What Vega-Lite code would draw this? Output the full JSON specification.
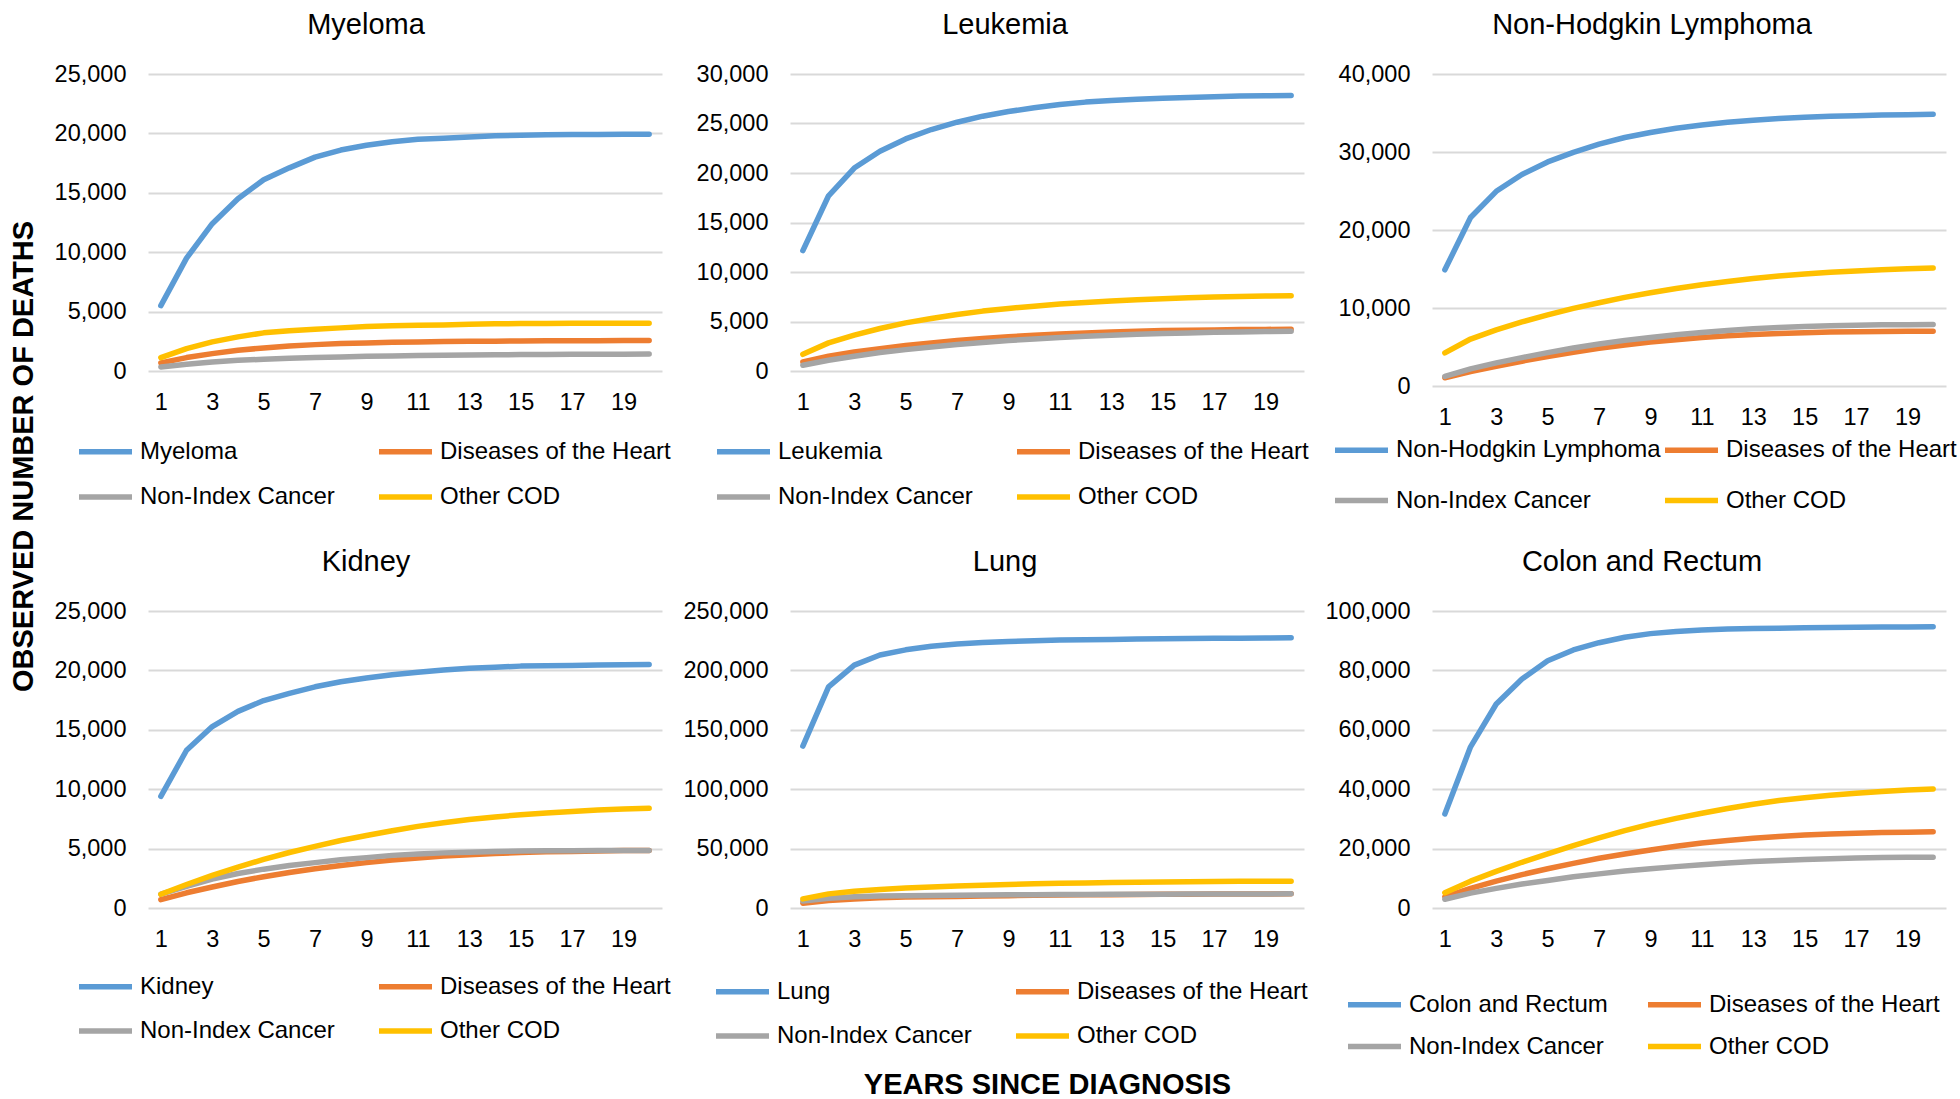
{
"$schema": "https://vega.github.io/schema/vega-lite/v6.json",
"background": "white",
"padding": {"left": 9, "top": 11, "right": 0, "bottom": 0},
"bounds": "flush",
"columns": 3,
"spacing": {"row": 225, "column": 128},
"config": {
  "font": "Liberation Sans",
  "view": {"stroke": null},
  "axis": {"grid": true, "gridColor": "#D9D9D9", "gridWidth": 2, "domain": false, "ticks": false, "tickSize": 0, "labelFont": "Liberation Sans", "labelFontSize": 23.5, "labelColor": "#000000", "titleColor": "#000000", "titleFont": "Liberation Sans"},
  "legend": {"orient": "none", "direction": "horizontal", "columns": 2, "symbolType": "stroke", "symbolSize": 2809, "symbolStrokeWidth": 5.5, "labelFont": "Liberation Sans", "labelFontSize": 24, "labelColor": "#000000", "labelOffset": 5, "columnPadding": 5, "rowPadding": 3, "gridAlign": "all", "padding": 0, "labelLimit": 500, "title": null},
  "title": {"font": "Liberation Sans", "fontSize": 29, "fontWeight": "normal", "color": "#000000", "anchor": "middle", "frame": "group", "offset": 22, "baseline": "alphabetic"},
  "line": {"strokeWidth": 5.5, "strokeCap": "round", "strokeJoin": "round"}
},
"resolve": {"scale": {"color": "independent", "x": "independent", "y": "independent"}, "legend": {"color": "independent"}},
"datasets": {
"myeloma": [
{"cause":"Myeloma","year":1,"deaths":5500},{"cause":"Myeloma","year":2,"deaths":9500},{"cause":"Myeloma","year":3,"deaths":12400},{"cause":"Myeloma","year":4,"deaths":14500},{"cause":"Myeloma","year":5,"deaths":16100},{"cause":"Myeloma","year":6,"deaths":17100},{"cause":"Myeloma","year":7,"deaths":18000},{"cause":"Myeloma","year":8,"deaths":18600},{"cause":"Myeloma","year":9,"deaths":19000},{"cause":"Myeloma","year":10,"deaths":19300},{"cause":"Myeloma","year":11,"deaths":19500},{"cause":"Myeloma","year":12,"deaths":19600},{"cause":"Myeloma","year":13,"deaths":19700},{"cause":"Myeloma","year":14,"deaths":19800},{"cause":"Myeloma","year":15,"deaths":19850},{"cause":"Myeloma","year":16,"deaths":19880},{"cause":"Myeloma","year":17,"deaths":19900},{"cause":"Myeloma","year":18,"deaths":19910},{"cause":"Myeloma","year":19,"deaths":19920},{"cause":"Myeloma","year":20,"deaths":19930},
{"cause":"Diseases of the Heart","year":1,"deaths":680},{"cause":"Diseases of the Heart","year":2,"deaths":1130},{"cause":"Diseases of the Heart","year":3,"deaths":1460},{"cause":"Diseases of the Heart","year":4,"deaths":1750},{"cause":"Diseases of the Heart","year":5,"deaths":1940},{"cause":"Diseases of the Heart","year":6,"deaths":2110},{"cause":"Diseases of the Heart","year":7,"deaths":2220},{"cause":"Diseases of the Heart","year":8,"deaths":2310},{"cause":"Diseases of the Heart","year":9,"deaths":2360},{"cause":"Diseases of the Heart","year":10,"deaths":2420},{"cause":"Diseases of the Heart","year":11,"deaths":2450},{"cause":"Diseases of the Heart","year":12,"deaths":2480},{"cause":"Diseases of the Heart","year":13,"deaths":2500},{"cause":"Diseases of the Heart","year":14,"deaths":2510},{"cause":"Diseases of the Heart","year":15,"deaths":2530},{"cause":"Diseases of the Heart","year":16,"deaths":2540},{"cause":"Diseases of the Heart","year":17,"deaths":2550},{"cause":"Diseases of the Heart","year":18,"deaths":2550},{"cause":"Diseases of the Heart","year":19,"deaths":2560},{"cause":"Diseases of the Heart","year":20,"deaths":2560},
{"cause":"Non-Index Cancer","year":1,"deaths":340},{"cause":"Non-Index Cancer","year":2,"deaths":560},{"cause":"Non-Index Cancer","year":3,"deaths":760},{"cause":"Non-Index Cancer","year":4,"deaths":900},{"cause":"Non-Index Cancer","year":5,"deaths":990},{"cause":"Non-Index Cancer","year":6,"deaths":1070},{"cause":"Non-Index Cancer","year":7,"deaths":1130},{"cause":"Non-Index Cancer","year":8,"deaths":1180},{"cause":"Non-Index Cancer","year":9,"deaths":1240},{"cause":"Non-Index Cancer","year":10,"deaths":1270},{"cause":"Non-Index Cancer","year":11,"deaths":1300},{"cause":"Non-Index Cancer","year":12,"deaths":1320},{"cause":"Non-Index Cancer","year":13,"deaths":1350},{"cause":"Non-Index Cancer","year":14,"deaths":1370},{"cause":"Non-Index Cancer","year":15,"deaths":1380},{"cause":"Non-Index Cancer","year":16,"deaths":1390},{"cause":"Non-Index Cancer","year":17,"deaths":1400},{"cause":"Non-Index Cancer","year":18,"deaths":1410},{"cause":"Non-Index Cancer","year":19,"deaths":1420},{"cause":"Non-Index Cancer","year":20,"deaths":1430},
{"cause":"Other COD","year":1,"deaths":1130},{"cause":"Other COD","year":2,"deaths":1890},{"cause":"Other COD","year":3,"deaths":2450},{"cause":"Other COD","year":4,"deaths":2870},{"cause":"Other COD","year":5,"deaths":3210},{"cause":"Other COD","year":6,"deaths":3380},{"cause":"Other COD","year":7,"deaths":3520},{"cause":"Other COD","year":8,"deaths":3630},{"cause":"Other COD","year":9,"deaths":3740},{"cause":"Other COD","year":10,"deaths":3800},{"cause":"Other COD","year":11,"deaths":3860},{"cause":"Other COD","year":12,"deaths":3880},{"cause":"Other COD","year":13,"deaths":3940},{"cause":"Other COD","year":14,"deaths":3970},{"cause":"Other COD","year":15,"deaths":4000},{"cause":"Other COD","year":16,"deaths":4000},{"cause":"Other COD","year":17,"deaths":4020},{"cause":"Other COD","year":18,"deaths":4020},{"cause":"Other COD","year":19,"deaths":4025},{"cause":"Other COD","year":20,"deaths":4025}
],
"leukemia": [
{"cause":"Leukemia","year":1,"deaths":12160},{"cause":"Leukemia","year":2,"deaths":17700},{"cause":"Leukemia","year":3,"deaths":20500},{"cause":"Leukemia","year":4,"deaths":22190},{"cause":"Leukemia","year":5,"deaths":23440},{"cause":"Leukemia","year":6,"deaths":24390},{"cause":"Leukemia","year":7,"deaths":25130},{"cause":"Leukemia","year":8,"deaths":25740},{"cause":"Leukemia","year":9,"deaths":26210},{"cause":"Leukemia","year":10,"deaths":26590},{"cause":"Leukemia","year":11,"deaths":26920},{"cause":"Leukemia","year":12,"deaths":27160},{"cause":"Leukemia","year":13,"deaths":27330},{"cause":"Leukemia","year":14,"deaths":27460},{"cause":"Leukemia","year":15,"deaths":27560},{"cause":"Leukemia","year":16,"deaths":27630},{"cause":"Leukemia","year":17,"deaths":27700},{"cause":"Leukemia","year":18,"deaths":27770},{"cause":"Leukemia","year":19,"deaths":27800},{"cause":"Leukemia","year":20,"deaths":27840},
{"cause":"Diseases of the Heart","year":1,"deaths":910},{"cause":"Diseases of the Heart","year":2,"deaths":1490},{"cause":"Diseases of the Heart","year":3,"deaths":1925},{"cause":"Diseases of the Heart","year":4,"deaths":2260},{"cause":"Diseases of the Heart","year":5,"deaths":2570},{"cause":"Diseases of the Heart","year":6,"deaths":2840},{"cause":"Diseases of the Heart","year":7,"deaths":3070},{"cause":"Diseases of the Heart","year":8,"deaths":3280},{"cause":"Diseases of the Heart","year":9,"deaths":3450},{"cause":"Diseases of the Heart","year":10,"deaths":3615},{"cause":"Diseases of the Heart","year":11,"deaths":3750},{"cause":"Diseases of the Heart","year":12,"deaths":3850},{"cause":"Diseases of the Heart","year":13,"deaths":3950},{"cause":"Diseases of the Heart","year":14,"deaths":4020},{"cause":"Diseases of the Heart","year":15,"deaths":4090},{"cause":"Diseases of the Heart","year":16,"deaths":4120},{"cause":"Diseases of the Heart","year":17,"deaths":4150},{"cause":"Diseases of the Heart","year":18,"deaths":4180},{"cause":"Diseases of the Heart","year":19,"deaths":4200},{"cause":"Diseases of the Heart","year":20,"deaths":4220},
{"cause":"Non-Index Cancer","year":1,"deaths":575},{"cause":"Non-Index Cancer","year":2,"deaths":1080},{"cause":"Non-Index Cancer","year":3,"deaths":1490},{"cause":"Non-Index Cancer","year":4,"deaths":1860},{"cause":"Non-Index Cancer","year":5,"deaths":2160},{"cause":"Non-Index Cancer","year":6,"deaths":2430},{"cause":"Non-Index Cancer","year":7,"deaths":2670},{"cause":"Non-Index Cancer","year":8,"deaths":2870},{"cause":"Non-Index Cancer","year":9,"deaths":3070},{"cause":"Non-Index Cancer","year":10,"deaths":3240},{"cause":"Non-Index Cancer","year":11,"deaths":3380},{"cause":"Non-Index Cancer","year":12,"deaths":3510},{"cause":"Non-Index Cancer","year":13,"deaths":3615},{"cause":"Non-Index Cancer","year":14,"deaths":3715},{"cause":"Non-Index Cancer","year":15,"deaths":3780},{"cause":"Non-Index Cancer","year":16,"deaths":3850},{"cause":"Non-Index Cancer","year":17,"deaths":3920},{"cause":"Non-Index Cancer","year":18,"deaths":3950},{"cause":"Non-Index Cancer","year":19,"deaths":3990},{"cause":"Non-Index Cancer","year":20,"deaths":4020},
{"cause":"Other COD","year":1,"deaths":1690},{"cause":"Other COD","year":2,"deaths":2840},{"cause":"Other COD","year":3,"deaths":3615},{"cause":"Other COD","year":4,"deaths":4290},{"cause":"Other COD","year":5,"deaths":4860},{"cause":"Other COD","year":6,"deaths":5300},{"cause":"Other COD","year":7,"deaths":5710},{"cause":"Other COD","year":8,"deaths":6050},{"cause":"Other COD","year":9,"deaths":6320},{"cause":"Other COD","year":10,"deaths":6550},{"cause":"Other COD","year":11,"deaths":6760},{"cause":"Other COD","year":12,"deaths":6925},{"cause":"Other COD","year":13,"deaths":7060},{"cause":"Other COD","year":14,"deaths":7200},{"cause":"Other COD","year":15,"deaths":7300},{"cause":"Other COD","year":16,"deaths":7400},{"cause":"Other COD","year":17,"deaths":7470},{"cause":"Other COD","year":18,"deaths":7530},{"cause":"Other COD","year":19,"deaths":7570},{"cause":"Other COD","year":20,"deaths":7600}
],
"nhl": [
{"cause":"Non-Hodgkin Lymphoma","year":1,"deaths":14900},{"cause":"Non-Hodgkin Lymphoma","year":2,"deaths":21600},{"cause":"Non-Hodgkin Lymphoma","year":3,"deaths":24960},{"cause":"Non-Hodgkin Lymphoma","year":4,"deaths":27120},{"cause":"Non-Hodgkin Lymphoma","year":5,"deaths":28730},{"cause":"Non-Hodgkin Lymphoma","year":6,"deaths":29950},{"cause":"Non-Hodgkin Lymphoma","year":7,"deaths":31000},{"cause":"Non-Hodgkin Lymphoma","year":8,"deaths":31860},{"cause":"Non-Hodgkin Lymphoma","year":9,"deaths":32500},{"cause":"Non-Hodgkin Lymphoma","year":10,"deaths":33050},{"cause":"Non-Hodgkin Lymphoma","year":11,"deaths":33470},{"cause":"Non-Hodgkin Lymphoma","year":12,"deaths":33810},{"cause":"Non-Hodgkin Lymphoma","year":13,"deaths":34070},{"cause":"Non-Hodgkin Lymphoma","year":14,"deaths":34280},{"cause":"Non-Hodgkin Lymphoma","year":15,"deaths":34450},{"cause":"Non-Hodgkin Lymphoma","year":16,"deaths":34570},{"cause":"Non-Hodgkin Lymphoma","year":17,"deaths":34660},{"cause":"Non-Hodgkin Lymphoma","year":18,"deaths":34740},{"cause":"Non-Hodgkin Lymphoma","year":19,"deaths":34790},{"cause":"Non-Hodgkin Lymphoma","year":20,"deaths":34830},
{"cause":"Diseases of the Heart","year":1,"deaths":1060},{"cause":"Diseases of the Heart","year":2,"deaths":1860},{"cause":"Diseases of the Heart","year":3,"deaths":2540},{"cause":"Diseases of the Heart","year":4,"deaths":3180},{"cause":"Diseases of the Heart","year":5,"deaths":3770},{"cause":"Diseases of the Heart","year":6,"deaths":4320},{"cause":"Diseases of the Heart","year":7,"deaths":4830},{"cause":"Diseases of the Heart","year":8,"deaths":5250},{"cause":"Diseases of the Heart","year":9,"deaths":5640},{"cause":"Diseases of the Heart","year":10,"deaths":5930},{"cause":"Diseases of the Heart","year":11,"deaths":6230},{"cause":"Diseases of the Heart","year":12,"deaths":6440},{"cause":"Diseases of the Heart","year":13,"deaths":6610},{"cause":"Diseases of the Heart","year":14,"deaths":6740},{"cause":"Diseases of the Heart","year":15,"deaths":6820},{"cause":"Diseases of the Heart","year":16,"deaths":6910},{"cause":"Diseases of the Heart","year":17,"deaths":6950},{"cause":"Diseases of the Heart","year":18,"deaths":6990},{"cause":"Diseases of the Heart","year":19,"deaths":7010},{"cause":"Diseases of the Heart","year":20,"deaths":7030},
{"cause":"Non-Index Cancer","year":1,"deaths":1230},{"cause":"Non-Index Cancer","year":2,"deaths":2200},{"cause":"Non-Index Cancer","year":3,"deaths":2970},{"cause":"Non-Index Cancer","year":4,"deaths":3640},{"cause":"Non-Index Cancer","year":5,"deaths":4280},{"cause":"Non-Index Cancer","year":6,"deaths":4870},{"cause":"Non-Index Cancer","year":7,"deaths":5380},{"cause":"Non-Index Cancer","year":8,"deaths":5850},{"cause":"Non-Index Cancer","year":9,"deaths":6230},{"cause":"Non-Index Cancer","year":10,"deaths":6570},{"cause":"Non-Index Cancer","year":11,"deaths":6860},{"cause":"Non-Index Cancer","year":12,"deaths":7120},{"cause":"Non-Index Cancer","year":13,"deaths":7330},{"cause":"Non-Index Cancer","year":14,"deaths":7500},{"cause":"Non-Index Cancer","year":15,"deaths":7630},{"cause":"Non-Index Cancer","year":16,"deaths":7710},{"cause":"Non-Index Cancer","year":17,"deaths":7800},{"cause":"Non-Index Cancer","year":18,"deaths":7840},{"cause":"Non-Index Cancer","year":19,"deaths":7860},{"cause":"Non-Index Cancer","year":20,"deaths":7880},
{"cause":"Other COD","year":1,"deaths":4240},{"cause":"Other COD","year":2,"deaths":6020},{"cause":"Other COD","year":3,"deaths":7200},{"cause":"Other COD","year":4,"deaths":8220},{"cause":"Other COD","year":5,"deaths":9110},{"cause":"Other COD","year":6,"deaths":9960},{"cause":"Other COD","year":7,"deaths":10680},{"cause":"Other COD","year":8,"deaths":11360},{"cause":"Other COD","year":9,"deaths":11950},{"cause":"Other COD","year":10,"deaths":12500},{"cause":"Other COD","year":11,"deaths":12970},{"cause":"Other COD","year":12,"deaths":13390},{"cause":"Other COD","year":13,"deaths":13770},{"cause":"Other COD","year":14,"deaths":14110},{"cause":"Other COD","year":15,"deaths":14360},{"cause":"Other COD","year":16,"deaths":14580},{"cause":"Other COD","year":17,"deaths":14740},{"cause":"Other COD","year":18,"deaths":14910},{"cause":"Other COD","year":19,"deaths":15040},{"cause":"Other COD","year":20,"deaths":15130}
],
"kidney": [
{"cause":"Kidney","year":1,"deaths":9400},{"cause":"Kidney","year":2,"deaths":13280},{"cause":"Kidney","year":3,"deaths":15270},{"cause":"Kidney","year":4,"deaths":16550},{"cause":"Kidney","year":5,"deaths":17460},{"cause":"Kidney","year":6,"deaths":18070},{"cause":"Kidney","year":7,"deaths":18620},{"cause":"Kidney","year":8,"deaths":19050},{"cause":"Kidney","year":9,"deaths":19360},{"cause":"Kidney","year":10,"deaths":19630},{"cause":"Kidney","year":11,"deaths":19840},{"cause":"Kidney","year":12,"deaths":20030},{"cause":"Kidney","year":13,"deaths":20180},{"cause":"Kidney","year":14,"deaths":20270},{"cause":"Kidney","year":15,"deaths":20360},{"cause":"Kidney","year":16,"deaths":20390},{"cause":"Kidney","year":17,"deaths":20420},{"cause":"Kidney","year":18,"deaths":20450},{"cause":"Kidney","year":19,"deaths":20470},{"cause":"Kidney","year":20,"deaths":20490},
{"cause":"Diseases of the Heart","year":1,"deaths":700},{"cause":"Diseases of the Heart","year":2,"deaths":1280},{"cause":"Diseases of the Heart","year":3,"deaths":1770},{"cause":"Diseases of the Heart","year":4,"deaths":2230},{"cause":"Diseases of the Heart","year":5,"deaths":2630},{"cause":"Diseases of the Heart","year":6,"deaths":2990},{"cause":"Diseases of the Heart","year":7,"deaths":3300},{"cause":"Diseases of the Heart","year":8,"deaths":3570},{"cause":"Diseases of the Heart","year":9,"deaths":3820},{"cause":"Diseases of the Heart","year":10,"deaths":4030},{"cause":"Diseases of the Heart","year":11,"deaths":4210},{"cause":"Diseases of the Heart","year":12,"deaths":4370},{"cause":"Diseases of the Heart","year":13,"deaths":4490},{"cause":"Diseases of the Heart","year":14,"deaths":4580},{"cause":"Diseases of the Heart","year":15,"deaths":4670},{"cause":"Diseases of the Heart","year":16,"deaths":4730},{"cause":"Diseases of the Heart","year":17,"deaths":4760},{"cause":"Diseases of the Heart","year":18,"deaths":4800},{"cause":"Diseases of the Heart","year":19,"deaths":4830},{"cause":"Diseases of the Heart","year":20,"deaths":4850},
{"cause":"Non-Index Cancer","year":1,"deaths":1160},{"cause":"Non-Index Cancer","year":2,"deaths":1830},{"cause":"Non-Index Cancer","year":3,"deaths":2440},{"cause":"Non-Index Cancer","year":4,"deaths":2900},{"cause":"Non-Index Cancer","year":5,"deaths":3270},{"cause":"Non-Index Cancer","year":6,"deaths":3570},{"cause":"Non-Index Cancer","year":7,"deaths":3820},{"cause":"Non-Index Cancer","year":8,"deaths":4060},{"cause":"Non-Index Cancer","year":9,"deaths":4240},{"cause":"Non-Index Cancer","year":10,"deaths":4430},{"cause":"Non-Index Cancer","year":11,"deaths":4550},{"cause":"Non-Index Cancer","year":12,"deaths":4640},{"cause":"Non-Index Cancer","year":13,"deaths":4700},{"cause":"Non-Index Cancer","year":14,"deaths":4760},{"cause":"Non-Index Cancer","year":15,"deaths":4790},{"cause":"Non-Index Cancer","year":16,"deaths":4810},{"cause":"Non-Index Cancer","year":17,"deaths":4820},{"cause":"Non-Index Cancer","year":18,"deaths":4830},{"cause":"Non-Index Cancer","year":19,"deaths":4840},{"cause":"Non-Index Cancer","year":20,"deaths":4850},
{"cause":"Other COD","year":1,"deaths":1160},{"cause":"Other COD","year":2,"deaths":1980},{"cause":"Other COD","year":3,"deaths":2750},{"cause":"Other COD","year":4,"deaths":3450},{"cause":"Other COD","year":5,"deaths":4090},{"cause":"Other COD","year":6,"deaths":4670},{"cause":"Other COD","year":7,"deaths":5190},{"cause":"Other COD","year":8,"deaths":5680},{"cause":"Other COD","year":9,"deaths":6100},{"cause":"Other COD","year":10,"deaths":6500},{"cause":"Other COD","year":11,"deaths":6870},{"cause":"Other COD","year":12,"deaths":7170},{"cause":"Other COD","year":13,"deaths":7450},{"cause":"Other COD","year":14,"deaths":7660},{"cause":"Other COD","year":15,"deaths":7850},{"cause":"Other COD","year":16,"deaths":8000},{"cause":"Other COD","year":17,"deaths":8120},{"cause":"Other COD","year":18,"deaths":8240},{"cause":"Other COD","year":19,"deaths":8330},{"cause":"Other COD","year":20,"deaths":8400}
],
"lung": [
{"cause":"Lung","year":1,"deaths":136300},{"cause":"Lung","year":2,"deaths":186100},{"cause":"Lung","year":3,"deaths":204400},{"cause":"Lung","year":4,"deaths":213000},{"cause":"Lung","year":5,"deaths":217300},{"cause":"Lung","year":6,"deaths":220300},{"cause":"Lung","year":7,"deaths":222200},{"cause":"Lung","year":8,"deaths":223400},{"cause":"Lung","year":9,"deaths":224300},{"cause":"Lung","year":10,"deaths":224900},{"cause":"Lung","year":11,"deaths":225500},{"cause":"Lung","year":12,"deaths":225800},{"cause":"Lung","year":13,"deaths":226100},{"cause":"Lung","year":14,"deaths":226400},{"cause":"Lung","year":15,"deaths":226600},{"cause":"Lung","year":16,"deaths":226800},{"cause":"Lung","year":17,"deaths":227000},{"cause":"Lung","year":18,"deaths":227100},{"cause":"Lung","year":19,"deaths":227300},{"cause":"Lung","year":20,"deaths":227400},
{"cause":"Diseases of the Heart","year":1,"deaths":3970},{"cause":"Diseases of the Heart","year":2,"deaths":6400},{"cause":"Diseases of the Heart","year":3,"deaths":7640},{"cause":"Diseases of the Heart","year":4,"deaths":8560},{"cause":"Diseases of the Heart","year":5,"deaths":9170},{"cause":"Diseases of the Heart","year":6,"deaths":9500},{"cause":"Diseases of the Heart","year":7,"deaths":9780},{"cause":"Diseases of the Heart","year":8,"deaths":10100},{"cause":"Diseases of the Heart","year":9,"deaths":10400},{"cause":"Diseases of the Heart","year":10,"deaths":10650},{"cause":"Diseases of the Heart","year":11,"deaths":10850},{"cause":"Diseases of the Heart","year":12,"deaths":11050},{"cause":"Diseases of the Heart","year":13,"deaths":11200},{"cause":"Diseases of the Heart","year":14,"deaths":11350},{"cause":"Diseases of the Heart","year":15,"deaths":11500},{"cause":"Diseases of the Heart","year":16,"deaths":11600},{"cause":"Diseases of the Heart","year":17,"deaths":11700},{"cause":"Diseases of the Heart","year":18,"deaths":11800},{"cause":"Diseases of the Heart","year":19,"deaths":11850},{"cause":"Diseases of the Heart","year":20,"deaths":11900},
{"cause":"Non-Index Cancer","year":1,"deaths":5800},{"cause":"Non-Index Cancer","year":2,"deaths":8250},{"cause":"Non-Index Cancer","year":3,"deaths":9470},{"cause":"Non-Index Cancer","year":4,"deaths":10080},{"cause":"Non-Index Cancer","year":5,"deaths":10390},{"cause":"Non-Index Cancer","year":6,"deaths":10600},{"cause":"Non-Index Cancer","year":7,"deaths":10800},{"cause":"Non-Index Cancer","year":8,"deaths":11000},{"cause":"Non-Index Cancer","year":9,"deaths":11100},{"cause":"Non-Index Cancer","year":10,"deaths":11200},{"cause":"Non-Index Cancer","year":11,"deaths":11300},{"cause":"Non-Index Cancer","year":12,"deaths":11400},{"cause":"Non-Index Cancer","year":13,"deaths":11500},{"cause":"Non-Index Cancer","year":14,"deaths":11550},{"cause":"Non-Index Cancer","year":15,"deaths":11600},{"cause":"Non-Index Cancer","year":16,"deaths":11700},{"cause":"Non-Index Cancer","year":17,"deaths":11750},{"cause":"Non-Index Cancer","year":18,"deaths":11800},{"cause":"Non-Index Cancer","year":19,"deaths":11850},{"cause":"Non-Index Cancer","year":20,"deaths":11900},
{"cause":"Other COD","year":1,"deaths":7640},{"cause":"Other COD","year":2,"deaths":11900},{"cause":"Other COD","year":3,"deaths":14060},{"cause":"Other COD","year":4,"deaths":15600},{"cause":"Other COD","year":5,"deaths":16800},{"cause":"Other COD","year":6,"deaths":17700},{"cause":"Other COD","year":7,"deaths":18600},{"cause":"Other COD","year":8,"deaths":19250},{"cause":"Other COD","year":9,"deaths":19860},{"cause":"Other COD","year":10,"deaths":20470},{"cause":"Other COD","year":11,"deaths":20780},{"cause":"Other COD","year":12,"deaths":21090},{"cause":"Other COD","year":13,"deaths":21400},{"cause":"Other COD","year":14,"deaths":21700},{"cause":"Other COD","year":15,"deaths":21900},{"cause":"Other COD","year":16,"deaths":22100},{"cause":"Other COD","year":17,"deaths":22300},{"cause":"Other COD","year":18,"deaths":22450},{"cause":"Other COD","year":19,"deaths":22550},{"cause":"Other COD","year":20,"deaths":22600}
],
"colon": [
{"cause":"Colon and Rectum","year":1,"deaths":31650},{"cause":"Colon and Rectum","year":2,"deaths":54260},{"cause":"Colon and Rectum","year":3,"deaths":68680},{"cause":"Colon and Rectum","year":4,"deaths":77110},{"cause":"Colon and Rectum","year":5,"deaths":83220},{"cause":"Colon and Rectum","year":6,"deaths":86890},{"cause":"Colon and Rectum","year":7,"deaths":89330},{"cause":"Colon and Rectum","year":8,"deaths":91160},{"cause":"Colon and Rectum","year":9,"deaths":92380},{"cause":"Colon and Rectum","year":10,"deaths":93120},{"cause":"Colon and Rectum","year":11,"deaths":93600},{"cause":"Colon and Rectum","year":12,"deaths":93970},{"cause":"Colon and Rectum","year":13,"deaths":94090},{"cause":"Colon and Rectum","year":14,"deaths":94220},{"cause":"Colon and Rectum","year":15,"deaths":94340},{"cause":"Colon and Rectum","year":16,"deaths":94460},{"cause":"Colon and Rectum","year":17,"deaths":94550},{"cause":"Colon and Rectum","year":18,"deaths":94600},{"cause":"Colon and Rectum","year":19,"deaths":94650},{"cause":"Colon and Rectum","year":20,"deaths":94700},
{"cause":"Diseases of the Heart","year":1,"deaths":3790},{"cause":"Diseases of the Heart","year":2,"deaths":6600},{"cause":"Diseases of the Heart","year":3,"deaths":9040},{"cause":"Diseases of the Heart","year":4,"deaths":11240},{"cause":"Diseases of the Heart","year":5,"deaths":13200},{"cause":"Diseases of the Heart","year":6,"deaths":15030},{"cause":"Diseases of the Heart","year":7,"deaths":16740},{"cause":"Diseases of the Heart","year":8,"deaths":18210},{"cause":"Diseases of the Heart","year":9,"deaths":19550},{"cause":"Diseases of the Heart","year":10,"deaths":20770},{"cause":"Diseases of the Heart","year":11,"deaths":21870},{"cause":"Diseases of the Heart","year":12,"deaths":22730},{"cause":"Diseases of the Heart","year":13,"deaths":23460},{"cause":"Diseases of the Heart","year":14,"deaths":24070},{"cause":"Diseases of the Heart","year":15,"deaths":24560},{"cause":"Diseases of the Heart","year":16,"deaths":24930},{"cause":"Diseases of the Heart","year":17,"deaths":25170},{"cause":"Diseases of the Heart","year":18,"deaths":25420},{"cause":"Diseases of the Heart","year":19,"deaths":25540},{"cause":"Diseases of the Heart","year":20,"deaths":25660},
{"cause":"Non-Index Cancer","year":1,"deaths":2930},{"cause":"Non-Index Cancer","year":2,"deaths":5010},{"cause":"Non-Index Cancer","year":3,"deaths":6600},{"cause":"Non-Index Cancer","year":4,"deaths":8070},{"cause":"Non-Index Cancer","year":5,"deaths":9290},{"cause":"Non-Index Cancer","year":6,"deaths":10510},{"cause":"Non-Index Cancer","year":7,"deaths":11490},{"cause":"Non-Index Cancer","year":8,"deaths":12460},{"cause":"Non-Index Cancer","year":9,"deaths":13200},{"cause":"Non-Index Cancer","year":10,"deaths":13930},{"cause":"Non-Index Cancer","year":11,"deaths":14540},{"cause":"Non-Index Cancer","year":12,"deaths":15150},{"cause":"Non-Index Cancer","year":13,"deaths":15640},{"cause":"Non-Index Cancer","year":14,"deaths":16010},{"cause":"Non-Index Cancer","year":15,"deaths":16370},{"cause":"Non-Index Cancer","year":16,"deaths":16620},{"cause":"Non-Index Cancer","year":17,"deaths":16860},{"cause":"Non-Index Cancer","year":18,"deaths":16990},{"cause":"Non-Index Cancer","year":19,"deaths":17050},{"cause":"Non-Index Cancer","year":20,"deaths":17110},
{"cause":"Other COD","year":1,"deaths":5130},{"cause":"Other COD","year":2,"deaths":9040},{"cause":"Other COD","year":3,"deaths":12340},{"cause":"Other COD","year":4,"deaths":15400},{"cause":"Other COD","year":5,"deaths":18210},{"cause":"Other COD","year":6,"deaths":21020},{"cause":"Other COD","year":7,"deaths":23590},{"cause":"Other COD","year":8,"deaths":26030},{"cause":"Other COD","year":9,"deaths":28230},{"cause":"Other COD","year":10,"deaths":30180},{"cause":"Other COD","year":11,"deaths":31890},{"cause":"Other COD","year":12,"deaths":33480},{"cause":"Other COD","year":13,"deaths":34950},{"cause":"Other COD","year":14,"deaths":36170},{"cause":"Other COD","year":15,"deaths":37150},{"cause":"Other COD","year":16,"deaths":38000},{"cause":"Other COD","year":17,"deaths":38620},{"cause":"Other COD","year":18,"deaths":39230},{"cause":"Other COD","year":19,"deaths":39720},{"cause":"Other COD","year":20,"deaths":40080}
]
},
"concat": [
{
 "width": 514, "height": 297,
 "title": {"text": "Myeloma", "dx": -39},
 "data": {"name": "myeloma"},
 "mark": {"type": "line"},
 "encoding": {
  "x": {"field": "year", "type": "quantitative", "scale": {"domain": [0.5, 20.5], "nice": false, "zero": false}, "axis": {"values": [1,3,5,7,9,11,13,15,17,19], "grid": false, "labelPadding": 19, "title": null}},
  "y": {"field": "deaths", "type": "quantitative", "scale": {"domain": [0, 25000], "nice": false}, "axis": {"values": [0,5000,10000,15000,20000,25000], "format": ",d", "labelPadding": 22, "title": "OBSERVED NUMBER OF DEATHS", "titleFontSize": 29, "titleFontWeight": "bold", "titleAngle": -90, "titleAlign": "center", "titleBaseline": "middle", "titleX": -125, "titleY": 382}},
  "color": {"field": "cause", "type": "nominal", "scale": {"domain": ["Myeloma","Diseases of the Heart","Non-Index Cancer","Other COD"], "range": ["#5B9BD5","#ED7D31","#A5A5A5","#FFC000"]}, "legend": {"legendX": -72, "legendY": 348, "rowPadding": 3.5}}
 }
},
{
 "width": 514, "height": 297,
 "title": {"text": "Leukemia", "dx": -42},
 "data": {"name": "leukemia"},
 "mark": {"type": "line"},
 "encoding": {
  "x": {"field": "year", "type": "quantitative", "scale": {"domain": [0.5, 20.5], "nice": false, "zero": false}, "axis": {"values": [1,3,5,7,9,11,13,15,17,19], "grid": false, "labelPadding": 19, "title": null}},
  "y": {"field": "deaths", "type": "quantitative", "scale": {"domain": [0, 30000], "nice": false}, "axis": {"values": [0,5000,10000,15000,20000,25000,30000], "format": ",d", "labelPadding": 22, "title": null}},
  "color": {"field": "cause", "type": "nominal", "scale": {"domain": ["Leukemia","Diseases of the Heart","Non-Index Cancer","Other COD"], "range": ["#5B9BD5","#ED7D31","#A5A5A5","#FFC000"]}, "legend": {"legendX": -76, "legendY": 348, "rowPadding": 3.5}}
 }
},
{
 "width": 514, "height": 312,
 "title": {"text": "Non-Hodgkin Lymphoma", "dx": -37},
 "data": {"name": "nhl"},
 "mark": {"type": "line"},
 "encoding": {
  "x": {"field": "year", "type": "quantitative", "scale": {"domain": [0.5, 20.5], "nice": false, "zero": false}, "axis": {"values": [1,3,5,7,9,11,13,15,17,19], "grid": false, "labelPadding": 19, "title": null}},
  "y": {"field": "deaths", "type": "quantitative", "scale": {"domain": [0, 40000], "nice": false}, "axis": {"values": [0,10000,20000,30000,40000], "format": ",d", "labelPadding": 22, "title": null}},
  "color": {"field": "cause", "type": "nominal", "scale": {"domain": ["Non-Hodgkin Lymphoma","Diseases of the Heart","Non-Index Cancer","Other COD"], "range": ["#5B9BD5","#ED7D31","#A5A5A5","#FFC000"]}, "legend": {"legendX": -100, "legendY": 346.5, "rowPadding": 8.5, "columnPadding": 1}}
 }
},
{
 "width": 514, "height": 297,
 "title": {"text": "Kidney", "dx": -39},
 "data": {"name": "kidney"},
 "mark": {"type": "line"},
 "encoding": {
  "x": {"field": "year", "type": "quantitative", "scale": {"domain": [0.5, 20.5], "nice": false, "zero": false}, "axis": {"values": [1,3,5,7,9,11,13,15,17,19], "grid": false, "labelPadding": 19, "title": null}},
  "y": {"field": "deaths", "type": "quantitative", "scale": {"domain": [0, 25000], "nice": false}, "axis": {"values": [0,5000,10000,15000,20000,25000], "format": ",d", "labelPadding": 22, "title": null}},
  "color": {"field": "cause", "type": "nominal", "scale": {"domain": ["Kidney","Diseases of the Heart","Non-Index Cancer","Other COD"], "range": ["#5B9BD5","#ED7D31","#A5A5A5","#FFC000"]}, "legend": {"legendX": -72, "legendY": 346, "rowPadding": 2.5}}
 }
},
{
 "width": 514, "height": 297,
 "title": {"text": "Lung", "dx": -42},
 "data": {"name": "lung"},
 "mark": {"type": "line"},
 "encoding": {
  "x": {"field": "year", "type": "quantitative", "scale": {"domain": [0.5, 20.5], "nice": false, "zero": false}, "axis": {"values": [1,3,5,7,9,11,13,15,17,19], "grid": false, "labelPadding": 19, "title": "YEARS SINCE DIAGNOSIS", "titleFontSize": 29, "titleFontWeight": "bold", "titleAlign": "center", "titleBaseline": "middle", "titleX": 257, "titleY": 176}},
  "y": {"field": "deaths", "type": "quantitative", "scale": {"domain": [0, 250000], "nice": false}, "axis": {"values": [0,50000,100000,150000,200000,250000], "format": ",d", "labelPadding": 22, "title": null}},
  "color": {"field": "cause", "type": "nominal", "scale": {"domain": ["Lung","Diseases of the Heart","Non-Index Cancer","Other COD"], "range": ["#5B9BD5","#ED7D31","#A5A5A5","#FFC000"]}, "legend": {"legendX": -77, "legendY": 351, "rowPadding": 2.5}}
 }
},
{
 "width": 514, "height": 297,
 "title": {"text": "Colon and Rectum", "dx": -47},
 "data": {"name": "colon"},
 "mark": {"type": "line"},
 "encoding": {
  "x": {"field": "year", "type": "quantitative", "scale": {"domain": [0.5, 20.5], "nice": false, "zero": false}, "axis": {"values": [1,3,5,7,9,11,13,15,17,19], "grid": false, "labelPadding": 19, "title": null}},
  "y": {"field": "deaths", "type": "quantitative", "scale": {"domain": [0, 100000], "nice": false}, "axis": {"values": [0,20000,40000,60000,80000,100000], "format": ",d", "labelPadding": 22, "title": null}},
  "color": {"field": "cause", "type": "nominal", "scale": {"domain": ["Colon and Rectum","Diseases of the Heart","Non-Index Cancer","Other COD"], "range": ["#5B9BD5","#ED7D31","#A5A5A5","#FFC000"]}, "legend": {"legendX": -87, "legendY": 364, "rowPadding": 0}}
 }
}
]
}
